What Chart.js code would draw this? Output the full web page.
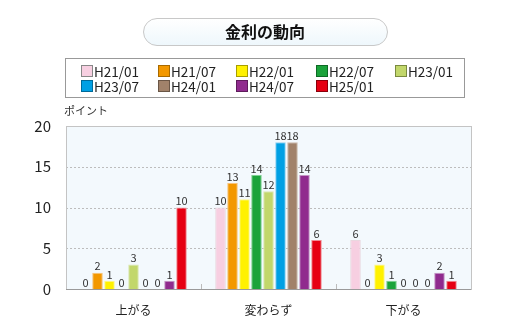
<!DOCTYPE html>
<html>
<head>
<meta charset="utf-8">
<script src="https://cdn.jsdelivr.net/npm/chart.js@4"></script>
<style>
  html, body { margin: 0; padding: 0; background: #fff; }
  #wrap { width: 520px; height: 327px; position: relative; }
</style>
</head>
<body>
<div id="wrap"><canvas id="myChart" width="520" height="327"></canvas></div>
<script>
// survey periods and answer categories
const periods = ['H21/01', 'H21/07', 'H22/01', 'H22/07', 'H23/01', 'H23/07', 'H24/01', 'H24/07', 'H25/01'];
const answers = ['上がる', '変わらず', '下がる'];

// points per period: [上がる, 変わらず, 下がる]
const h21_01 = [0, 10, 6];
const h21_07 = [2, 13, 0];
const h22_01 = [1, 11, 3];
const h22_07 = [0, 14, 1];
const h23_01 = [3, 12, 0];
const h23_07 = [0, 18, 0];
const h24_01 = [0, 18, 0];
const h24_07 = [1, 14, 2];
const h25_01 = [10, 6, 1];

const yTicks = [0, 5, 10, 15, 20];

const fills = ['#f7cfe1', '#f39800', '#fff100', '#1ba33b', '#c2d76b', '#00a0e4', '#a1826a', '#902b8e', '#e60013'];
const edges = ['#ead7df', '#f7c27a', '#fff68a', '#7fcf92', '#dbe7b0', '#8fd0f0', '#cbb9aa', '#c495c3', '#f08a92'];
const keyEdges = ['#888', '#a86a00', '#a89e00', '#0d6a25', '#7a8a40', '#006a99', '#6a5646', '#5e1c5c', '#8a000b'];

const series = [h21_01, h21_07, h22_01, h22_07, h23_01, h23_07, h24_01, h24_07, h25_01];

const FONT = '"Noto Sans CJK JP", "Noto Sans", sans-serif';

// title pill, legend box, plot frame and value labels
const decor = {
    id: 'decor',
    beforeDatasetsDraw(chart) {
        const c = chart.ctx, a = chart.chartArea;
        c.save();
        c.fillStyle = '#f3f9fd';
        c.fillRect(a.left, a.top, a.right - a.left, a.bottom - a.top);
        // dashed grid
        const y = chart.scales.y;
        c.strokeStyle = '#bdbdbd';
        c.lineWidth = 1;
        c.setLineDash([2, 2]);
        [5, 10, 15].forEach(v => {
            const py = Math.round(y.getPixelForValue(v)) + 0.5;
            c.beginPath(); c.moveTo(a.left, py); c.lineTo(a.right, py); c.stroke();
        });
        c.setLineDash([]);
        c.restore();
    },
    afterDatasetsDraw(chart) {
        const c = chart.ctx, a = chart.chartArea;
        c.save();
        // frame
        c.strokeStyle = '#c4c4c4';
        c.lineWidth = 1;
        c.strokeRect(Math.round(a.left) + 0.5, Math.round(a.top) + 0.5, Math.round(a.right - a.left), Math.round(a.bottom - a.top));
        c.strokeStyle = '#9a9a9a';
        c.beginPath();
        c.moveTo(a.left, Math.round(a.bottom) + 0.5); c.lineTo(a.right, Math.round(a.bottom) + 0.5);
        c.stroke();
        // category separators
        const x = chart.scales.x;
        c.strokeStyle = '#bbb';
        for (let i = 1; i < answers.length; i++) {
            const px = Math.round((x.getPixelForValue(i - 1) + x.getPixelForValue(i)) / 2) + 0.5;
            c.beginPath(); c.moveTo(px, a.bottom - 5); c.lineTo(px, a.bottom); c.stroke();
        }
        // value labels
        c.fillStyle = '#333';
        c.font = '11px ' + FONT;
        c.textAlign = 'center';
        c.textBaseline = 'bottom';
        chart.data.datasets.forEach((ds, di) => {
            chart.getDatasetMeta(di).data.forEach((bar, i) => {
                c.fillText(String(ds.data[i]), bar.x, bar.y - 1);
            });
        });
        // y axis caption
        c.fillStyle = '#333';
        c.font = '11px ' + FONT;
        c.textAlign = 'left';
        c.textBaseline = 'middle';
        c.fillText('ポイント', 64, 111);
        // title pill
        const tx = 143.5, ty = 18.5, tw = 244, th = 27, r = 13.5;
        const g = c.createLinearGradient(0, ty, 0, ty + th);
        g.addColorStop(0, '#ffffff');
        g.addColorStop(1, '#eef7fc');
        c.beginPath();
        c.roundRect(tx, ty, tw, th, r);
        c.fillStyle = g;
        c.fill();
        c.strokeStyle = '#c8c8c8';
        c.stroke();
        c.fillStyle = '#111';
        c.font = 'bold 16px ' + FONT;
        c.textAlign = 'center';
        c.fillText('金利の動向', 265, 32);
        // legend box
        c.strokeStyle = '#999';
        c.strokeRect(65.5, 58.5, 399, 39);
        const cols = [81, 158, 236, 316, 395];
        const rows = [71, 86];
        c.font = '13.5px ' + FONT;
        c.textAlign = 'left';
        periods.forEach((p, i) => {
            const cx = cols[i % 5], cy = rows[Math.floor(i / 5)];
            c.fillStyle = fills[i];
            c.fillRect(cx, cy - 6, 12, 12);
            c.strokeStyle = keyEdges[i];
            c.strokeRect(cx + 0.5, cy - 5.5, 11, 11);
            c.fillStyle = '#222';
            c.fillText(p, cx + 13, cy + 1);
        });
        c.restore();
    }
};

const ctx = document.getElementById('myChart');

var chart = new Chart(ctx, {
    type: 'bar',
    data: {
        labels: answers,
        datasets: periods.map((p, i) => ({
            label: p,
            data: series[i],
            backgroundColor: fills[i],
            borderColor: edges[i],
            borderWidth: 1,
            borderSkipped: 'bottom',
            categoryPercentage: 0.8,
            barPercentage: 0.88
        }))
    },
    options: {
        responsive: false,
        animation: false,
        layout: { padding: { top: 126, right: 49, left: 0, bottom: 0 } },
        plugins: {
            legend: { display: false },
            tooltip: { enabled: false }
        },
        scales: {
            x: {
                grid: { display: false },
                border: { display: false },
                ticks: { color: '#222', font: { size: 12, family: FONT }, padding: 6 },
                afterFit: s => { s.height = 38; }
            },
            y: {
                min: 0,
                max: 20,
                afterBuildTicks: s => { s.ticks = yTicks.map(v => ({ value: v })); },
                grid: { display: false },
                border: { display: false },
                ticks: { color: '#222', font: { size: 15, family: FONT }, padding: 7 },
                afterFit: s => { s.width = 66; }
            }
        }
    },
    plugins: [decor]
});
</script>
</body>
</html>
